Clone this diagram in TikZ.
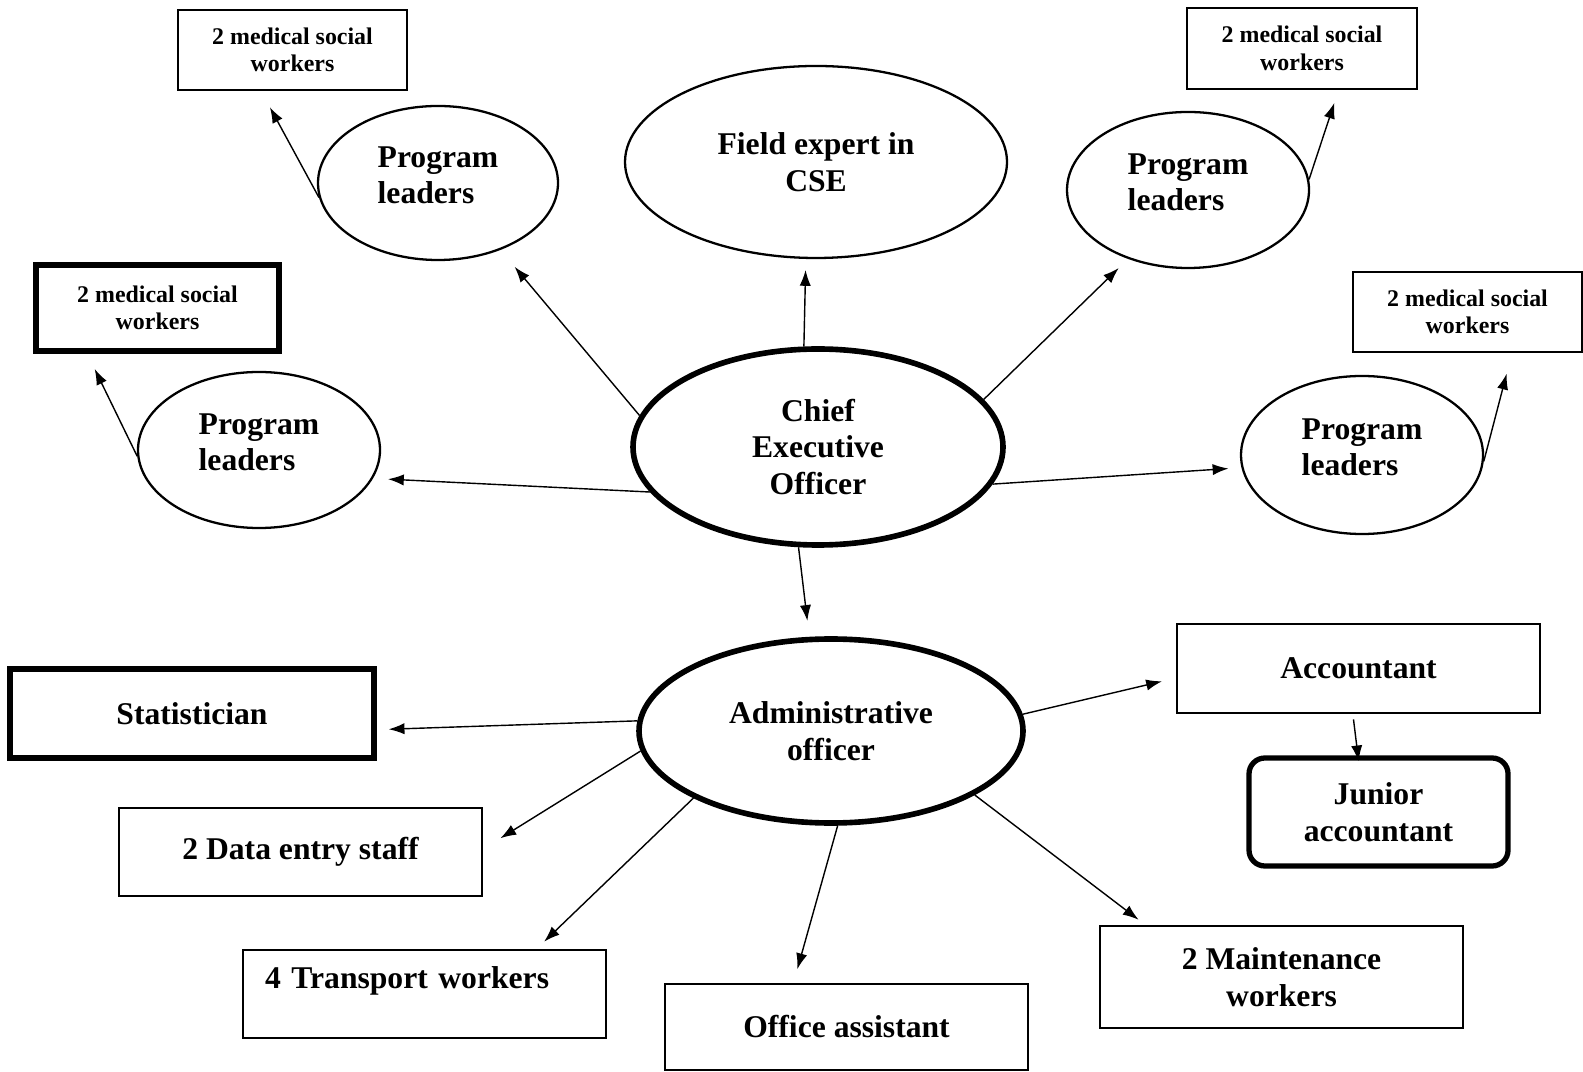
\documentclass[tikz,border=0pt]{standalone}
\usepackage{fontspec}
\setmainfont{Liberation Serif}
\usetikzlibrary{shapes.geometric, arrows.meta, positioning, calc}

\begin{document}
\begin{tikzpicture}[
    unit/.style={ellipse, draw, line width=0.65pt, inner sep=0pt, font=\fontsize{9}{10.4}\selectfont\bfseries},
    leader/.style={unit, minimum width=2.42cm, minimum height=1.56cm, align=left, text depth=1.6mm},
    head/.style={unit, line width=1.6pt, align=center},
    post/.style={rectangle, draw, line width=0.8pt, minimum width=3.63cm, minimum height=0.88cm, align=center, font=\fontsize{9}{10.4}\selectfont\bfseries},
    heavy/.style={post, line width=1.5pt},
    team/.style={rectangle, draw, line width=0.8pt, minimum width=2.29cm, minimum height=0.80cm, align=center, font=\fontsize{6.8}{7.8}\selectfont\bfseries},
    arrow/.style={-{Latex[length=4.5pt,width=3.2pt]}, line width=0.4pt}
  ]
  \useasboundingbox (0,0) rectangle (15.83,-10.72);

  % --- TOP: CEO AND PROGRAM LEADERS ---
  \node[head, minimum width=3.70cm, minimum height=1.96cm] (ceo) at (8.18,-4.47) {Chief\\Executive\\Officer};
  \node[unit, align=center, minimum width=3.82cm, minimum height=1.92cm] (cse) at (8.16,-1.62) {Field expert in\\CSE};

  \node[leader, minimum width=2.40cm, minimum height=1.54cm] (pl1) at (4.38,-1.83) {Program\\leaders};
  \node[leader] (pl2) at (11.88,-1.90) {Program\\leaders};
  \node[leader] (pl3) at (2.59,-4.50) {Program\\leaders};
  \node[leader, minimum height=1.58cm] (pl4) at (13.62,-4.55) {Program\\leaders};

  \node[team] (msw1) at (2.925,-0.50) {2 medical social\\workers};
  \node[team, minimum width=2.30cm, minimum height=0.81cm] (msw2) at (13.02,-0.485) {2 medical social\\workers};
  \node[team, line width=1.5pt, minimum width=2.43cm, minimum height=0.86cm] (msw3) at (1.575,-3.08) {2 medical social\\workers};
  \node[team] (msw4) at (14.675,-3.12) {2 medical social\\workers};

  \draw[arrow, shorten >=2.2mm] (ceo.170) -- (pl1.-47);
  \draw[arrow, shorten >=1.1mm] (ceo.98) -- (cse.-96);
  \draw[arrow, shorten >=1.3mm] (ceo.16) -- (pl2.-131);
  \draw[arrow, shorten >=1.5mm] (ceo.195) -- (pl3.-14);
  \draw[arrow, shorten >=1.3mm] (ceo.-12) -- (pl4.186);

  \draw[arrow, shorten >=1.8mm] (pl1.187) -- (msw1.-127);
  \draw[arrow, shorten >=1.3mm] (pl2.5) -- (msw2.-49);
  \draw[arrow, shorten >=1.7mm] (pl3.183) -- (msw3.-147);
  \draw[arrow, shorten >=2.1mm] (pl4.-3) -- (msw4.-43);

  % --- BOTTOM: ADMINISTRATIVE STAFF ---
  \node[head, minimum width=3.84cm, minimum height=1.84cm] (admin) at (8.31,-7.31) {Administrative\\officer};
  \draw[arrow, shorten >=1.6mm] (ceo.-101) -- (admin.103);

  \node[heavy, minimum width=3.64cm, minimum height=0.89cm] (stat) at (1.92,-7.135) {Statistician};
  \node[post, minimum height=0.89cm] (acct) at (13.585,-6.685) {Accountant};
  \node[heavy, rounded corners=4.5pt, minimum width=2.59cm, minimum height=1.08cm] (junior) at (13.785,-8.12) {Junior\\accountant};
  \node[post] (data) at (3.005,-8.52) {2 Data entry staff};
  \node[post, text width=3.19cm, align=left, text depth=3.3mm] (transport) at (4.245,-9.94) {4 Transport workers};
  \node[post, minimum height=0.86cm] (office) at (8.465,-10.27) {Office assistant};
  \node[post, minimum height=1.02cm] (maint) at (12.815,-9.77) {2 Maintenance\\workers};

  \draw[arrow, shorten >=1.2mm] (admin.177) -- (stat.-5);
  \draw[arrow, shorten >=2.0mm] (admin.186) -- (data.1);
  \draw[arrow, shorten >=1.0mm] (admin.206) -- (transport.22);
  \draw[arrow, shorten >=1.4mm] (admin.-86) -- (office.140);
  \draw[arrow, shorten >=0.8mm] (admin.-24) -- (maint.159);
  \draw[arrow, shorten >=1.4mm] (admin.5) -- (acct.183);
  \draw[arrow, shorten <=0.5mm, shorten >=-0.6mm] (acct.-97) -- (junior.110);
\end{tikzpicture}
\end{document}
